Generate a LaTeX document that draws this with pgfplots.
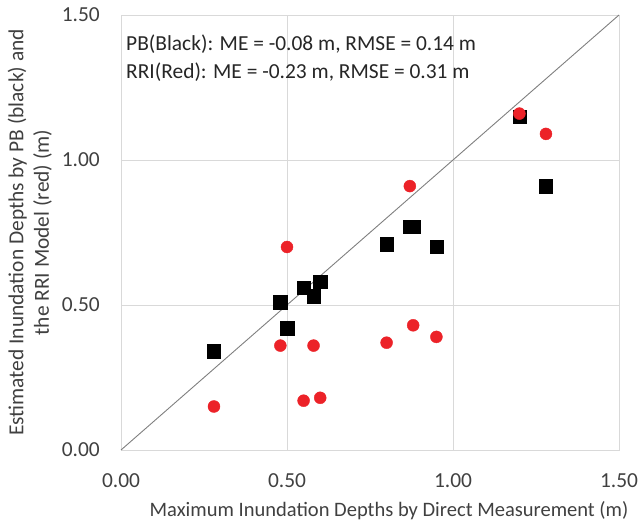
\documentclass[border=0pt]{standalone}
\usepackage{fontspec}
\setmainfont{Carlito}
\usepackage{pgfplots}
\pgfplotsset{compat=1.18}

\definecolor{txt}{HTML}{404040}
\definecolor{gridc}{HTML}{D9D9D9}
\definecolor{ptred}{RGB}{236,34,40}
\definecolor{diag}{HTML}{7F7F7F}

\begin{document}
\begin{tikzpicture}
\useasboundingbox (0,0) rectangle (641bp,524bp);
\begin{axis}[
  at={(121bp,74bp)}, anchor=south west,
  width=498bp, height=435bp, scale only axis,
  xmin=0, xmax=1.5, ymin=0, ymax=1.5,
  xtick={0,0.5,1,1.5}, ytick={0,0.5,1,1.5},
  grid=major, grid style={gridc, line width=0.8bp},
  axis line style={gridc, line width=0.8bp},
  major tick length=0pt,
  /pgf/number format/fixed,
  /pgf/number format/fixed zerofill,
  /pgf/number format/precision=2,
  /pgf/number format/assume math mode=true,
  tick label style={font=\fontsize{21.5}{26}\selectfont, text=txt, inner sep=0pt},
  xticklabel style={anchor=north, yshift=-23bp},
  yticklabel style={anchor=east, xshift=-21bp},
  xlabel={Maximum Inundation Depths by Direct Measurement (m)},
  ylabel={Estimated Inundation Depths by PB (black) and\\the RRI Model (red) (m)},
  label style={font=\fontsize{21.5}{25.5}\selectfont, text=txt, inner sep=0pt},
  xlabel style={font=\fontsize{20.6}{25}\selectfont, at={(axis description cs:0.5,0)}, anchor=base, yshift=-66bp, xshift=19bp},
  ylabel style={at={(axis description cs:0,0.5)}, anchor=south, align=center, yshift=69bp},
  clip=false,
]
% 1:1 reference line
\addplot[diag, line width=0.9bp] coordinates {(0,0) (1.5,1.5)};

% PB estimates (black squares)
\addplot[only marks, mark=square*, mark size=6.7bp, black] coordinates {
  (0.28,0.34) (0.48,0.51) (0.50,0.42) (0.55,0.56) (0.58,0.53) (0.60,0.58)
  (0.80,0.71) (0.87,0.77) (0.88,0.77) (0.95,0.70) (1.20,1.15) (1.28,0.91)
};

% RRI model estimates (red circles)
\addplot[only marks, mark=*, mark size=6bp, ptred, mark options={draw=ptred, fill=ptred}] coordinates {
  (0.28,0.15) (0.48,0.36) (0.50,0.70) (0.55,0.17) (0.58,0.36) (0.60,0.18)
  (0.80,0.37) (0.87,0.91) (0.88,0.43) (0.95,0.39) (1.20,1.16) (1.28,1.09)
};

\node[anchor=west, inner sep=0pt, font=\fontsize{21.5}{26}\selectfont, text=black!85]
  at (axis cs:0.015,1.400) {PB(Black): ME = -0.08 m, RMSE = 0.14 m};
\node[anchor=west, inner sep=0pt, font=\fontsize{21.5}{26}\selectfont, text=black!85]
  at (axis cs:0.015,1.303) {RRI(Red): ME = -0.23 m, RMSE = 0.31 m};
\end{axis}
\end{tikzpicture}
\end{document}
